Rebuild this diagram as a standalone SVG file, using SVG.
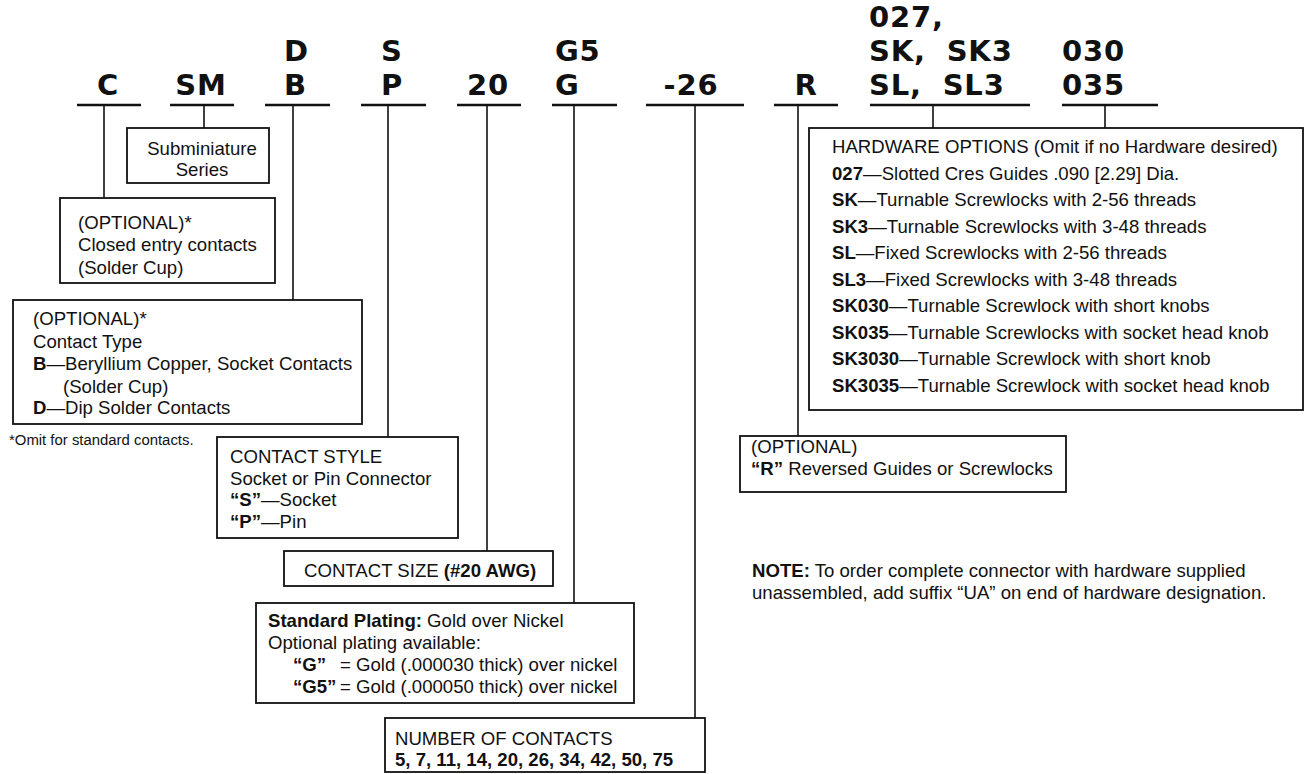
<svg xmlns="http://www.w3.org/2000/svg" width="1308" height="774" viewBox="0 0 1308 774">
<style>
.bg{fill:#fff}
.box{fill:none;stroke:#111;stroke-width:1.8}
.ln{fill:none;stroke:#111;stroke-width:1.6}
.ul{stroke:#111;stroke-width:2.6}
.t{font-family:"Liberation Sans",Arial,Helvetica,sans-serif;font-size:18.6px;fill:#111}
.s{font-family:"Liberation Sans",Arial,Helvetica,sans-serif;font-size:14.9px;fill:#111}
.b{font-weight:bold}
.lbl{font-family:"DejaVu Sans","Liberation Sans",sans-serif;font-weight:bold;font-size:29px;letter-spacing:0.8px;fill:#111}
.wide{word-spacing:10px}
</style>
<rect class="bg" x="0" y="0" width="1308" height="774"/>

<g id="connectors">
<path class="ln" d="M104 105V198"/>
<path class="ln" d="M204 105V128"/>
<path class="ln" d="M293 105V300"/>
<path class="ln" d="M388 105V437"/>
<path class="ln" d="M487 105V551"/>
<path class="ln" d="M574 105V603"/>
<path class="ln" d="M695 105V718"/>
<path class="ln" d="M798 105V436"/>
<path class="ln" d="M933 105V128"/>
<path class="ln" d="M1105 105V128"/>
</g>

<g id="code-C"><text class="lbl" x="108" y="95" text-anchor="middle">C</text><line class="ul" x1="77" y1="105" x2="141" y2="105"/></g>
<g id="code-SM"><text class="lbl" x="201" y="95" text-anchor="middle">SM</text><line class="ul" x1="170" y1="105" x2="234" y2="105"/></g>
<g id="code-B"><text class="lbl" x="284" y="61">D</text><text class="lbl" x="284" y="95">B</text><line class="ul" x1="265" y1="105" x2="330" y2="105"/></g>
<g id="code-P"><text class="lbl" x="381" y="61">S</text><text class="lbl" x="381" y="95">P</text><line class="ul" x1="361" y1="105" x2="426" y2="105"/></g>
<g id="code-20"><text class="lbl" x="488" y="95" text-anchor="middle">20</text><line class="ul" x1="457" y1="105" x2="521" y2="105"/></g>
<g id="code-G"><text class="lbl" x="555" y="61">G5</text><text class="lbl" x="555" y="95">G</text><line class="ul" x1="552" y1="105" x2="617" y2="105"/></g>
<g id="code-26"><text class="lbl" x="691" y="95" text-anchor="middle">-26</text><line class="ul" x1="646" y1="105" x2="744" y2="105"/></g>
<g id="code-R"><text class="lbl" x="806" y="95" text-anchor="middle">R</text><line class="ul" x1="774" y1="105" x2="838" y2="105"/></g>
<g id="code-hw"><text class="lbl" x="869" y="27">027,</text><text class="lbl wide" x="869" y="61">SK, SK3</text><text class="lbl wide" x="869" y="95">SL, SL3</text><line class="ul" x1="870" y1="105" x2="1030" y2="105"/></g>
<g id="code-035"><text class="lbl" x="1062" y="61">030</text><text class="lbl" x="1062" y="95">035</text><line class="ul" x1="1062" y1="105" x2="1158" y2="105"/></g>

<g id="box-series">
<rect class="box" x="127" y="128" width="142" height="55"/>
<text class="t" x="202" y="155" text-anchor="middle">Subminiature</text>
<text class="t" x="202" y="176" text-anchor="middle">Series</text>
</g>

<g id="box-closed">
<rect class="box" x="60" y="198" width="215" height="85"/>
<text class="t" x="78" y="229">(OPTIONAL)*</text>
<text class="t" x="78" y="251">Closed entry contacts</text>
<text class="t" x="78" y="274">(Solder Cup)</text>
</g>

<g id="box-type">
<rect class="box" x="13" y="300" width="349" height="124"/>
<text class="t" x="33" y="325">(OPTIONAL)*</text>
<text class="t" x="33" y="348">Contact Type</text>
<text class="t" x="33" y="370"><tspan class="b">B</tspan>—Beryllium Copper, Socket Contacts</text>
<text class="t" x="63" y="393">(Solder Cup)</text>
<text class="t" x="33" y="414"><tspan class="b">D</tspan>—Dip Solder Contacts</text>
</g>

<g id="footnote"><text class="s" x="9" y="445">*Omit for standard contacts.</text></g>

<g id="box-style">
<rect class="box" x="217" y="437" width="241" height="101"/>
<text class="t" x="230" y="463">CONTACT STYLE</text>
<text class="t" x="230" y="485">Socket or Pin Connector</text>
<text class="t" x="230" y="506"><tspan class="b">“S”</tspan>—Socket</text>
<text class="t" x="230" y="528"><tspan class="b">“P”</tspan>—Pin</text>
</g>

<g id="box-size">
<rect class="box" x="284" y="551" width="269" height="35"/>
<text class="t" x="304" y="577">CONTACT SIZE <tspan class="b">(#20 AWG)</tspan></text>
</g>

<g id="box-plating">
<rect class="box" x="256" y="603" width="378" height="100"/>
<text class="t" x="268" y="627"><tspan class="b">Standard Plating:</tspan> Gold over Nickel</text>
<text class="t" x="268" y="649">Optional plating available:</text>
<text class="t" x="293" y="671"><tspan class="b">“G”</tspan><tspan x="340">= Gold (.000030 thick) over nickel</tspan></text>
<text class="t" x="293" y="693"><tspan class="b">“G5”</tspan><tspan x="340">= Gold (.000050 thick) over nickel</tspan></text>
</g>

<g id="box-number">
<rect class="box" x="385" y="718" width="320" height="54"/>
<text class="t" x="395" y="745">NUMBER OF CONTACTS</text>
<text class="t b" x="395" y="766">5, 7, 11, 14, 20, 26, 34, 42, 50, 75</text>
</g>

<g id="box-reversed">
<rect class="box" x="740" y="436" width="326" height="56"/>
<text class="t" x="751" y="453">(OPTIONAL)</text>
<text class="t" x="751" y="475"><tspan class="b">“R”</tspan> Reversed Guides or Screwlocks</text>
</g>

<g id="box-hardware">
<rect class="box" x="809" y="128" width="494" height="282"/>
<text class="t" x="832" y="153">HARDWARE OPTIONS (Omit if no Hardware desired)</text>
<text class="t" x="832" y="179.5"><tspan class="b">027</tspan>—Slotted Cres Guides .090 [2.29] Dia.</text>
<text class="t" x="832" y="206"><tspan class="b">SK</tspan>—Turnable Screwlocks with 2-56 threads</text>
<text class="t" x="832" y="232.5"><tspan class="b">SK3</tspan>—Turnable Screwlocks with 3-48 threads</text>
<text class="t" x="832" y="259"><tspan class="b">SL</tspan>—Fixed Screwlocks with 2-56 threads</text>
<text class="t" x="832" y="285.5"><tspan class="b">SL3</tspan>—Fixed Screwlocks with 3-48 threads</text>
<text class="t" x="832" y="312"><tspan class="b">SK030</tspan>—Turnable Screwlock with short knobs</text>
<text class="t" x="832" y="338.5"><tspan class="b">SK035</tspan>—Turnable Screwlocks with socket head knob</text>
<text class="t" x="832" y="365"><tspan class="b">SK3030</tspan>—Turnable Screwlock with short knob</text>
<text class="t" x="832" y="391.5"><tspan class="b">SK3035</tspan>—Turnable Screwlock with socket head knob</text>
</g>

<g id="note">
<text class="t" x="752" y="577"><tspan class="b">NOTE:</tspan> To order complete connector with hardware supplied</text>
<text class="t" x="752" y="599">unassembled, add suffix “UA” on end of hardware designation.</text>
</g>
</svg>
